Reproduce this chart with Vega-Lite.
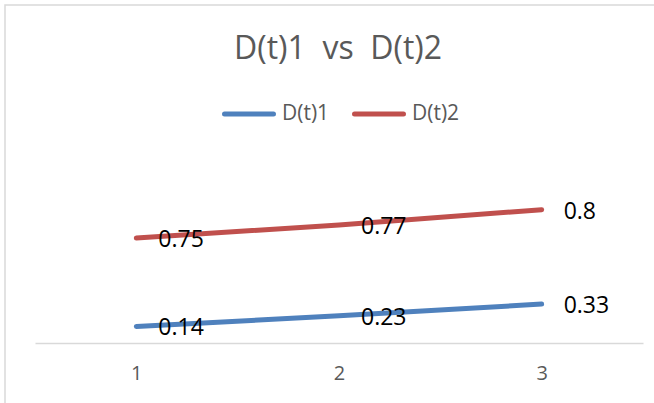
{
  "$schema": "https://vega.github.io/schema/vega-lite/v6.json",
  "autosize": {"type": "none"},
  "width": 652,
  "height": 400,
  "padding": {"left": 5, "top": 5, "right": 0, "bottom": 0},
  "background": "white",
  "config": {
    "view": {"stroke": "#D9D9D9", "strokeWidth": 1.5},
    "font": "Open Sans"
  },
  "title": {
    "text": "D(t)1\u00a0 vs\u00a0 D(t)2",
    "fontSize": 32,
    "font": "Open Sans",
    "fontWeight": "normal",
    "color": "#595959",
    "anchor": "middle",
    "frame": "group",
    "orient": "top",
    "baseline": "alphabetic",
    "offset": -86,
    "dx": 7
  },
  "data": {
    "values": [
      {"t": 1, "s": "D(t)1", "v": 0.14},
      {"t": 2, "s": "D(t)1", "v": 0.23},
      {"t": 3, "s": "D(t)1", "v": 0.33},
      {"t": 1, "s": "D(t)2", "v": 0.75},
      {"t": 2, "s": "D(t)2", "v": 0.77},
      {"t": 3, "s": "D(t)2", "v": 0.8}
    ]
  },
  "transform": [
    {"stack": "v", "groupby": ["t"], "sort": [{"field": "s", "order": "ascending"}], "as": ["v0", "v1"]}
  ],
  "encoding": {
    "x": {
      "field": "t",
      "type": "quantitative",
      "scale": {"domain": [0.5, 3.5], "range": [30, 638], "nice": false, "zero": false},
      "axis": {
        "values": [1, 2, 3],
        "format": "d",
        "title": null,
        "orient": "bottom",
        "offset": -62,
        "domainColor": "#D9D9D9",
        "domainWidth": 1.5,
        "ticks": false,
        "tickSize": 0,
        "grid": false,
        "labelColor": "#595959",
        "labelFontSize": 20,
        "labelFont": "Open Sans",
        "labelBaseline": "top",
        "labelPadding": 20
      }
    },
    "y": {
      "field": "v1",
      "type": "quantitative",
      "stack": null,
      "scale": {"domain": [0, 2], "range": [338, 102], "nice": false},
      "axis": null
    }
  },
  "layer": [
    {
      "mark": {"type": "line", "strokeWidth": 5, "strokeCap": "round"},
      "encoding": {
        "color": {
          "field": "s",
          "type": "nominal",
          "scale": {"domain": ["D(t)1", "D(t)2"], "range": ["#4F81BD", "#C0504D"]},
          "legend": {
            "orient": "none",
            "legendX": 217,
            "legendY": 82,
            "direction": "horizontal",
            "title": null,
            "symbolType": "stroke",
            "symbolSize": 2400,
            "symbolStrokeWidth": 5,
            "labelFontSize": 21,
            "labelFont": "Open Sans",
            "labelColor": "#595959",
            "labelOffset": 6,
            "columnPadding": 14,
            "padding": 0,
            "symbolOffset": 0,
            "encode": {"symbols": {"update": {"strokeCap": {"value": "round"}}}}
          }
        }
      }
    },
    {
      "mark": {"type": "text", "align": "left", "baseline": "middle", "dx": 22, "dy": 2, "fontSize": 23, "font": "Open Sans", "color": "#000000"},
      "encoding": {
        "detail": {"field": "s", "type": "nominal"},
        "text": {"field": "v", "type": "quantitative"}
      }
    }
  ]
}
